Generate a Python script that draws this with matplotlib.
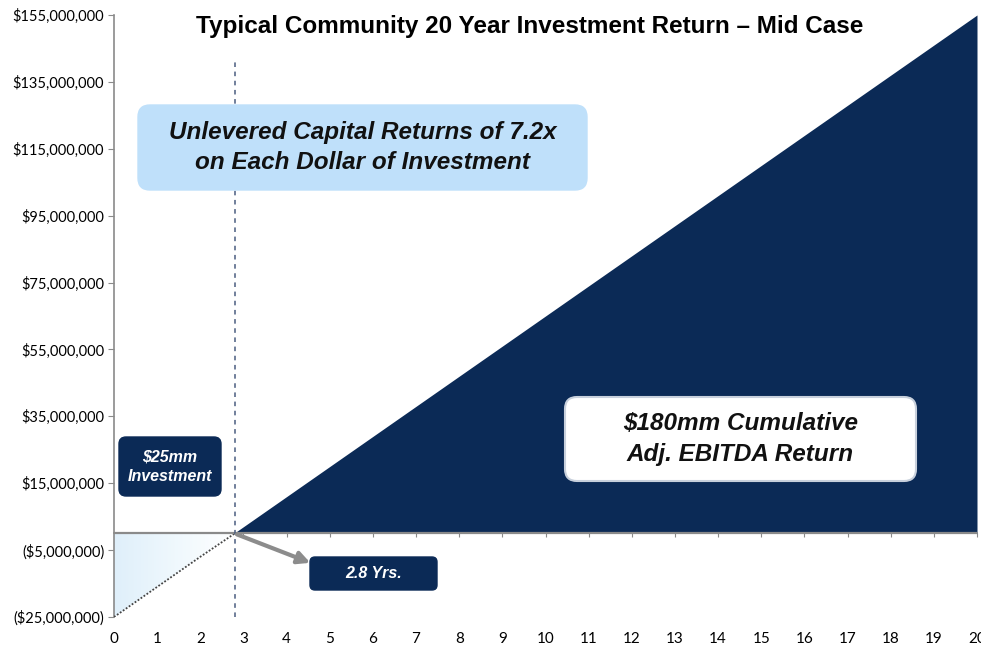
import matplotlib
matplotlib.use("Agg")
import matplotlib.pyplot as plt
import numpy as np
from matplotlib.patches import FancyBboxPatch
from matplotlib.ticker import FuncFormatter
from matplotlib.colors import LinearSegmentedColormap

# ---- data ----
years = list(range(21))
cumulative_mm = [-25, -16, -7, 2, 11, 20, 29, 38, 47, 56, 65, 74, 83, 92,
                 101, 110, 119, 128, 137, 146, 155]
payback_years = 2.8
investment_mm = 25
y_ticks_mm = [-25, -5, 15, 35, 55, 75, 95, 115, 135, 155]

title = "Typical Community 20 Year Investment Return \u2013 Mid Case"

x = np.array(years, dtype=float)
y = np.array(cumulative_mm, dtype=float) * 1e6

NAVY = "#0b2a56"
W, H = 981, 648
fig = plt.figure(figsize=(W / 100, H / 100), dpi=100)
ax = fig.add_axes([114 / W, 1 - 617 / H, (977 - 114) / W, (617 - 15) / H])

ax.set_xlim(0, 20)
ax.set_ylim(y_ticks_mm[0] * 1e6, y_ticks_mm[-1] * 1e6)

# positive area
ax.fill_between(x, y, 0, where=y >= 0, interpolate=True, color=NAVY, lw=0, zorder=2)
# negative area with gradient
neg = ax.fill_between(x, y, 0, where=y <= 0, interpolate=True, facecolor="none", lw=0, zorder=2)
cmap = LinearSegmentedColormap.from_list("g", ["#dfeffa", "#eff8fd", "#ffffff"])
grad = np.linspace(0, 1, 256).reshape(1, -1)
im = ax.imshow(grad, cmap=cmap, aspect="auto",
               extent=[0, payback_years, y_ticks_mm[0] * 1e6, 0], zorder=2)
im.set_clip_path(neg.get_paths()[0], transform=ax.transData)
ax.set_xlim(0, 20)
ax.set_ylim(y_ticks_mm[0] * 1e6, y_ticks_mm[-1] * 1e6)

# dotted boundary of the negative region
ax.plot(np.append(x[y < 0], payback_years), np.append(y[y < 0], 0), color="#444444",
        lw=1.3, ls=(0, (1, 1)), zorder=3)

# zero line
ax.axhline(0, color="#8a8a8a", lw=1.6, zorder=4)

# vertical dashed payback line
ax.vlines(payback_years, y_ticks_mm[0] * 1e6, 141.5e6, colors="#4a5d80", lw=1.1,
          linestyles=(0, (3, 3)), zorder=5)

# spines
for s in ["top", "right"]:
    ax.spines[s].set_visible(False)
ax.spines["left"].set_color("#8a8a8a")
ax.spines["left"].set_linewidth(1.2)
ax.spines["bottom"].set_position(("data", 0))
ax.spines["bottom"].set_color("#8a8a8a")
ax.spines["bottom"].set_linewidth(1.2)

ax.set_yticks([v * 1e6 for v in y_ticks_mm])
def fmt(v, pos):
    if v < 0:
        return "(${:,.0f})".format(-v)
    return "${:,.0f}".format(v)
ax.yaxis.set_major_formatter(FuncFormatter(fmt))
ax.tick_params(axis="y", length=4, color="#8a8a8a", labelsize=10.5, pad=3)
for lab in ax.get_yticklabels():
    lab.set_fontfamily("Lato")

ax.set_xticks(years)
ax.tick_params(axis="x", length=3, color="#8a8a8a", labelbottom=False, direction="out")

sec = ax.secondary_xaxis("bottom")
sec.set_xticks(years)
sec.tick_params(axis="x", length=0, labelsize=11, pad=11)
sec.spines["bottom"].set_visible(False)
for lab in sec.get_xticklabels():
    lab.set_fontfamily("Lato")

# title
fig.text(530 / W, 1 - 27 / H, title, ha="center", va="center",
         fontsize=17.5, fontweight="bold", family="Liberation Sans")

# arrow
ax.annotate("", xy=(4.55, -8.8e6), xytext=(2.85, -0.3e6),
            arrowprops=dict(arrowstyle="-|>", lw=3, color="#8c8c8c",
                            mutation_scale=18, shrinkA=0, shrinkB=0), zorder=6)

def box(x0, y0, x1, y1, fc, ec, text, tc, fs, r=0.1, lw=1.0, ls=1.45):
    p = FancyBboxPatch((x0 / 100, (H - y1) / 100), (x1 - x0) / 100, (y1 - y0) / 100,
                       boxstyle="round,pad=0,rounding_size=%f" % r,
                       transform=fig.dpi_scale_trans, fc=fc, ec=ec, lw=lw, zorder=10)
    fig.add_artist(p)
    fig.text((x0 + x1) / 2 / W, 1 - (y0 + y1) / 2 / H, text, ha="center", va="center",
             color=tc, fontsize=fs, fontweight="bold", fontstyle="italic",
             family="Liberation Sans", linespacing=ls, zorder=11)

box(138, 105, 587, 190, "#bfe0fa", "#bfe0fa",
    "Unlevered Capital Returns of 7.2x\non Each Dollar of Investment", "#111111", 17.5,
    r=0.12, ls=1.42)
box(565, 397, 916, 481, "white", "#c8d0dc",
    "$180mm Cumulative\nAdj. EBITDA Return", "#111111", 17.5, r=0.12, lw=1.5, ls=1.4)
box(119, 437, 221, 496, NAVY, NAVY,
    "$%dmm\nInvestment" % investment_mm, "white", 11.5, r=0.07, ls=1.4)
box(310, 557, 437, 590, NAVY, NAVY,
    "%.1f Yrs." % payback_years, "white", 11.5, r=0.05)

fig.savefig("out.png", dpi=100)
